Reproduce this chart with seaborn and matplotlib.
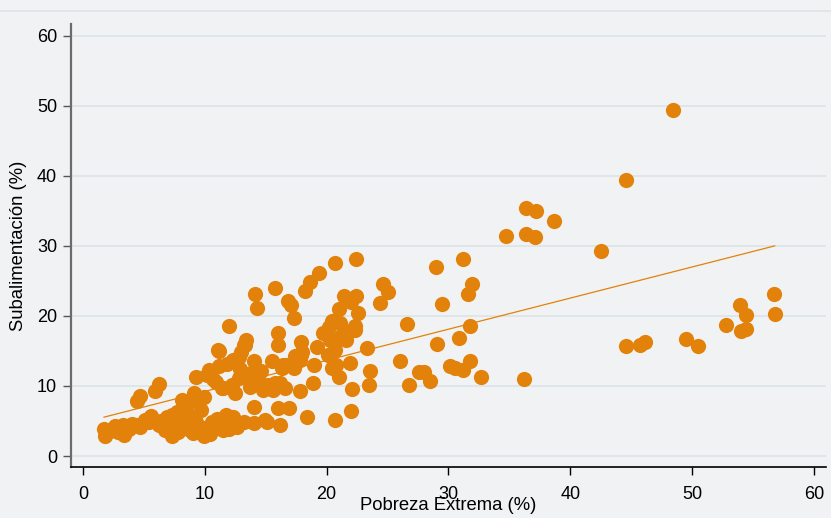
import pandas as pd
import seaborn as sns
import matplotlib.pyplot as plt

# Pobreza extrema (%) y subalimentacion (%)
pobreza = [
    1.7, 1.8, 2.2, 2.6, 3.0, 3.3, 3.4, 4.0, 4.4, 4.7, 5.1, 5.6, 5.4, 4.4, 4.7,
    5.9, 6.2, 6.9, 6.7, 7.3, 7.3, 7.7, 8.1, 8.5, 8.8, 9.1, 9.3, 9.7, 9.9, 10.3,
    11.1, 11.4, 7.8, 9.3, 8.0, 8.4, 8.9, 7.0, 6.4, 8.2, 9.5, 9.0, 9.6, 10.0, 10.4,
    10.7, 11.5, 11.0, 12.0, 10.2, 10.7, 11.2, 11.8, 12.3, 12.8, 13.0, 13.3, 13.4,
    14.0, 13.6, 12.8, 11.5, 12.5, 13.7, 14.8, 15.2, 14.4, 15.6, 15.8, 16.2, 16.4,
    16.6, 17.8, 18.9, 16.3, 17.3, 15.5, 17.9, 19.0, 20.3, 20.8, 16.0, 16.0, 17.9,
    19.2, 20.8, 11.2, 13.2, 12.0, 14.1, 14.3, 15.8, 16.8, 17.1, 17.3, 18.2, 18.6,
    19.4, 20.7, 22.4, 24.6, 25.0, 24.4, 21.4, 22.4, 22.0, 21.0, 22.6, 20.4, 21.1,
    22.3, 21.9, 21.2, 21.6, 20.3, 19.7, 20.2, 22.3, 20.7, 21.9, 23.3, 23.6, 23.5,
    22.1, 26.0, 21.0, 20.4, 20.1, 18.0, 17.4, 17.8, 16.7, 14.0, 16.0, 16.9, 18.4,
    20.7, 22.0, 11.7, 12.3, 13.2, 14.0, 14.9, 16.2, 15.1, 12.9, 13.8, 10.9, 9.9,
    8.6, 12.2, 14.6, 26.6, 29.0, 31.2, 31.9, 31.6, 29.5, 31.8, 30.9, 29.1, 30.1,
    30.5, 31.2, 31.8, 27.6, 28.0, 28.5, 26.8, 32.7, 36.2, 34.7, 36.4, 37.2, 38.7,
    36.4, 37.1, 42.5, 44.6, 48.4, 44.6, 45.7, 46.1, 49.5, 50.5, 52.8, 54.0, 54.4,
    53.9, 54.4, 56.7, 56.8,
    8.3, 9.4, 10.6, 11.9, 7.6, 6.2, 10.1, 12.6, 2.9, 3.8,
]
subalimentacion = [
    3.9, 2.8, 3.6, 4.3, 4.0, 4.4, 3.0, 4.6, 4.4, 4.2, 5.1, 5.7, 4.9, 7.8, 8.5,
    9.3, 10.3, 5.6, 3.7, 2.8, 5.9, 6.3, 8.0, 5.1, 3.7, 9.0, 11.3, 6.6, 2.8, 12.3,
    15.1, 9.7, 3.5, 4.9, 4.4, 6.8, 5.7, 5.2, 5.0, 7.8, 7.8, 3.3, 3.7, 4.0, 3.2,
    4.4, 3.7, 5.3, 3.9, 11.6, 11.0, 12.8, 13.2, 13.7, 14.2, 14.9, 15.9, 16.6,
    13.5, 11.6, 11.1, 9.7, 9.0, 9.9, 9.4, 10.1, 11.1, 9.4, 10.4, 10.4, 13.0,
    9.7, 9.3, 10.4, 12.5, 12.5, 13.6, 14.4, 13.0, 14.4, 13.0, 17.5, 15.9, 16.3,
    15.6, 16.6, 15.0, 15.9, 18.6, 23.2, 21.2, 24.0, 22.1, 21.6, 19.7, 23.5, 24.8,
    26.2, 27.5, 28.1, 24.5, 23.4, 21.8, 22.8, 22.8, 22.0, 21.0, 20.4, 19.3, 19.0,
    18.0, 17.8, 17.1, 16.6, 16.6, 17.5, 18.4, 18.5, 15.2, 13.3, 15.4, 12.1, 10.1,
    9.6, 13.6, 11.3, 12.5, 14.4, 14.9, 14.3, 13.7, 13.0, 7.0, 6.8, 6.9, 5.6,
    5.1, 6.4, 5.9, 5.6, 4.9, 4.7, 5.1, 4.4, 4.9, 12.4, 11.8, 10.5, 8.4,
    7.5, 10.2, 12.2, 18.9, 27.0, 28.1, 24.5, 23.1, 21.7, 18.6, 16.8, 16.0, 12.9,
    12.5, 12.3, 13.5, 12.0, 12.0, 10.7, 10.2, 11.3, 11.0, 31.4, 35.4, 35.0, 33.5,
    31.7, 31.3, 29.3, 39.4, 49.4, 15.7, 15.9, 16.3, 16.7, 15.7, 18.7, 17.8, 18.1,
    21.6, 20.2, 23.1, 20.3,
    4.2, 4.0, 4.8, 4.5, 4.6, 4.4, 3.5, 4.2, 3.4, 3.8,
]

x_ticks = [0, 10, 20, 30, 40, 50, 60]
y_ticks = [0, 10, 20, 30, 40, 50, 60]

df = pd.DataFrame({"pobreza": pobreza, "subalimentacion": subalimentacion})

bg = "#f1f2f4"
orange = "#e2820a"

sns.set_theme(style="white")
plt.rcParams["font.family"] = ["Liberation Sans", "DejaVu Sans"]

fig = plt.figure(figsize=(8.31, 5.18), dpi=100, facecolor=bg)
ax = fig.add_axes([71 / 831, 51 / 518, 755 / 831, 443 / 518])
ax.set_facecolor(bg)

# horizontal grid lines
for yv in y_ticks:
    ax.axhline(yv, color="#dce5e8", linewidth=1.3, zorder=0)

# fit line (drawn below the points)
sns.regplot(
    data=df, x="pobreza", y="subalimentacion", scatter=False, ci=None,
    truncate=True, color=orange, line_kws={"linewidth": 0.9, "zorder": 1}, ax=ax,
)
sns.scatterplot(
    data=df, x="pobreza", y="subalimentacion", s=120, color=orange,
    linewidth=0, alpha=1, zorder=2, ax=ax,
)

ax.set_xlim(-0.99, 61.0)
ax.set_ylim(-1.57, 61.7)
ax.set_xticks(x_ticks)
ax.set_yticks(y_ticks)

for side in ["top", "right"]:
    ax.spines[side].set_visible(False)
ax.spines["left"].set_color("#6b6b6b")
ax.spines["left"].set_linewidth(1.6)
ax.spines["bottom"].set_color("black")
ax.spines["bottom"].set_linewidth(1.2)

ax.tick_params(axis="x", direction="out", length=6, width=1, color="black",
               labelsize=13, labelcolor="black", pad=8, bottom=True)
ax.tick_params(axis="y", direction="out", length=6, width=1, color="#555555",
               labelsize=13, labelcolor="black", pad=4, left=True)

ax.set_xlabel("Pobreza Extrema (%)", fontsize=13.3, color="black", va="center")
ax.set_ylabel("Subalimentación (%)", fontsize=13.3, color="black", va="center")
ax.xaxis.set_label_coords(0.50, -0.086)
ax.yaxis.set_label_coords(-0.069, 0.50)

# thin border line at the top of the graph region
fig.add_artist(plt.Line2D([0, 1], [1 - 11 / 518, 1 - 11 / 518],
                          color="#dde3e6", linewidth=1.2))

fig.savefig("out.png", dpi=100, facecolor=bg)
